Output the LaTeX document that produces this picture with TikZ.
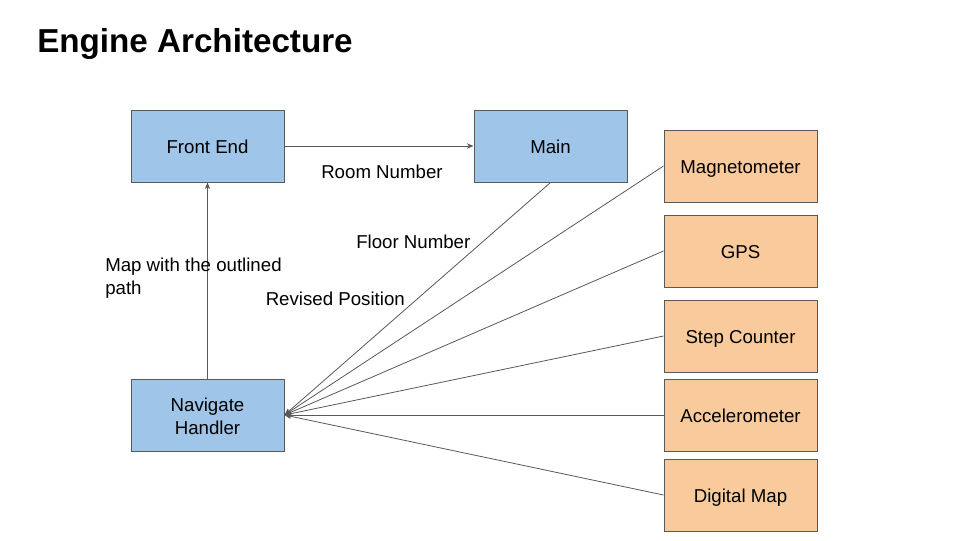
\documentclass[tikz,border=0pt]{standalone}
\usepackage{fontspec}
\setmainfont{Liberation Sans}
\usetikzlibrary{arrows.meta}
\definecolor{boxblue}{HTML}{9FC5E8}
\definecolor{boxorange}{HTML}{F9CB9C}
\definecolor{edgegray}{HTML}{595959}
\begin{document}
\begin{tikzpicture}[x=0.75pt,y=-0.75pt,
  box/.style={draw=edgegray,line width=0.75pt,minimum width=114.75pt,minimum height=54pt,inner sep=0pt,font=\fontsize{14}{16.8}\selectfont,align=center},
  oneline/.style={text height=11pt,text depth=0.5pt},
  bluebox/.style={box,fill=boxblue},
  orangebox/.style={box,oneline,fill=boxorange},
  conn/.style={draw=edgegray,line width=0.6pt},
  arr/.style={conn,-{Stealth[length=5pt,width=4pt]}},
  lbl/.style={anchor=base west,inner sep=0pt,font=\fontsize{14}{17.25}\selectfont,align=left}]
\useasboundingbox (0,0) rectangle (960,540);
\fill[white] (0,0) rectangle (960,540);
\node[anchor=base west,inner sep=0pt,font=\fontsize{24.9}{29}\selectfont\bfseries] (title) at (37,52) {Engine Architecture};
\node[bluebox,oneline] (fe) at (207.5,146) {Front End};
\node[bluebox,oneline] (main) at (550.5,146) {Main};
\node[bluebox] (nav) at (207.5,415) {\rule{0pt}{12pt}Navigate\\Handler};
\node[orangebox] (mag) at (740.5,166) {Magnetometer};
\node[orangebox] (gps) at (740.5,251) {GPS};
\node[orangebox] (step) at (740.5,336) {Step Counter};
\node[orangebox] (acc) at (740.5,415) {Accelerometer};
\node[orangebox] (dmap) at (740.5,495) {Digital Map};
\draw[arr] (fe.east) -- (main.west);
\draw[arr] (nav.north) -- (fe.south);
\draw[arr] (main.south) -- (nav.east);
\draw[arr] (mag.west) -- (nav.east);
\draw[arr] (gps.west) -- (nav.east);
\draw[arr] (step.west) -- (nav.east);
\draw[arr] (acc.west) -- (nav.east);
\draw[arr] (dmap.west) -- (nav.east);
\node[lbl] (room) at (321,178) {Room Number};
\node[lbl] (floor) at (356,248) {Floor Number};
\node[lbl] (rev) at (265.5,305) {Revised Position};
\node[lbl] (mapl) at (105,294) {Map with the outlined\\path};
\end{tikzpicture}
\end{document}
